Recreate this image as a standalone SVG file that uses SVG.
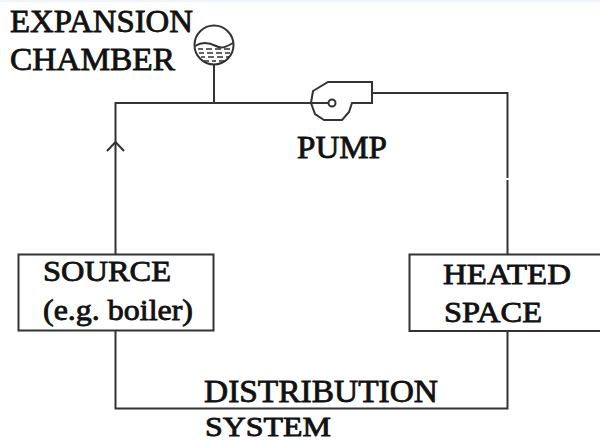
<svg xmlns="http://www.w3.org/2000/svg" width="600" height="442" viewBox="0 0 600 442">
<style>
.l{fill:none;stroke:#333;stroke-width:2}
.t{stroke:#333;stroke-width:1.300;stroke-linecap:butt}
text{font-family:"Liberation Serif","Times New Roman",serif;font-size:31px;fill:#111;stroke:#111;stroke-width:.8}
.s{font-size:29px}
.b{font-size:27px}
</style>
<rect width="600" height="442" fill="#fff"/>
<rect width="600" height="2" fill="#eef5fc"/>
<g id="connectors">
<path class="l" d="M115.500 254V103H311M214 65V103"/>
<path class="l" d="M372 93H507.500V254"/>
<path d="M506 178h3v2h-3z" fill="#fff"/>
<path class="l" stroke-width="1.300" d="M107 151L115.500 142L124 151"/>
<path class="l" d="M115.500 331V408.500H507.500V331"/>
</g>
<g id="expansion-chamber">
<circle class="l" cx="214" cy="45" r="19.500"/>
<path class="l" d="M195 46C203 41 210 43 216 46S226 47 233 43"/>
<path class="t" d="M198 49h5m3 0h6m3 0h6m3 0h6M199 53h5m3 0h6m3 0h6m3 0h5M201 57h4m3 0h6m3 0h6m3 0h3M204 61h5m3 0h4m3 0h6"/>
<text x="10" y="32" textLength="183" lengthAdjust="spacingAndGlyphs">EXPANSION</text>
<text x="10" y="70" textLength="165" lengthAdjust="spacingAndGlyphs">CHAMBER</text>
</g>
<g id="pump">
<path class="l" d="M328 82H372V103H352L349 112L342 120H324L315 114L311 103L313 91Z"/>
<circle class="l" cx="332" cy="103" r="3.500"/>
<path class="l" d="M311 103H328"/>
<text x="297" y="158" textLength="90" lengthAdjust="spacingAndGlyphs">PUMP</text>
</g>
<g id="source">
<rect class="l" x="18.500" y="254.500" width="195" height="76"/>
<text class="s" x="43" y="281" textLength="128" lengthAdjust="spacingAndGlyphs">SOURCE</text>
<text class="s" x="43" y="320" textLength="150" lengthAdjust="spacingAndGlyphs">(e.g. boiler)</text>
</g>
<g id="heated-space">
<path class="l" d="M601 254.500H409.500V331H601"/>
<text class="s" x="443" y="284" textLength="128" lengthAdjust="spacingAndGlyphs">HEATED</text>
<text class="s" x="444" y="322" textLength="98" lengthAdjust="spacingAndGlyphs">SPACE</text>
</g>
<g id="distribution-label">
<text x="204" y="402" textLength="234" lengthAdjust="spacingAndGlyphs">DISTRIBUTION</text>
<text class="b" x="205" y="436" textLength="126" lengthAdjust="spacingAndGlyphs">SYSTEM</text>
</g>
</svg>
